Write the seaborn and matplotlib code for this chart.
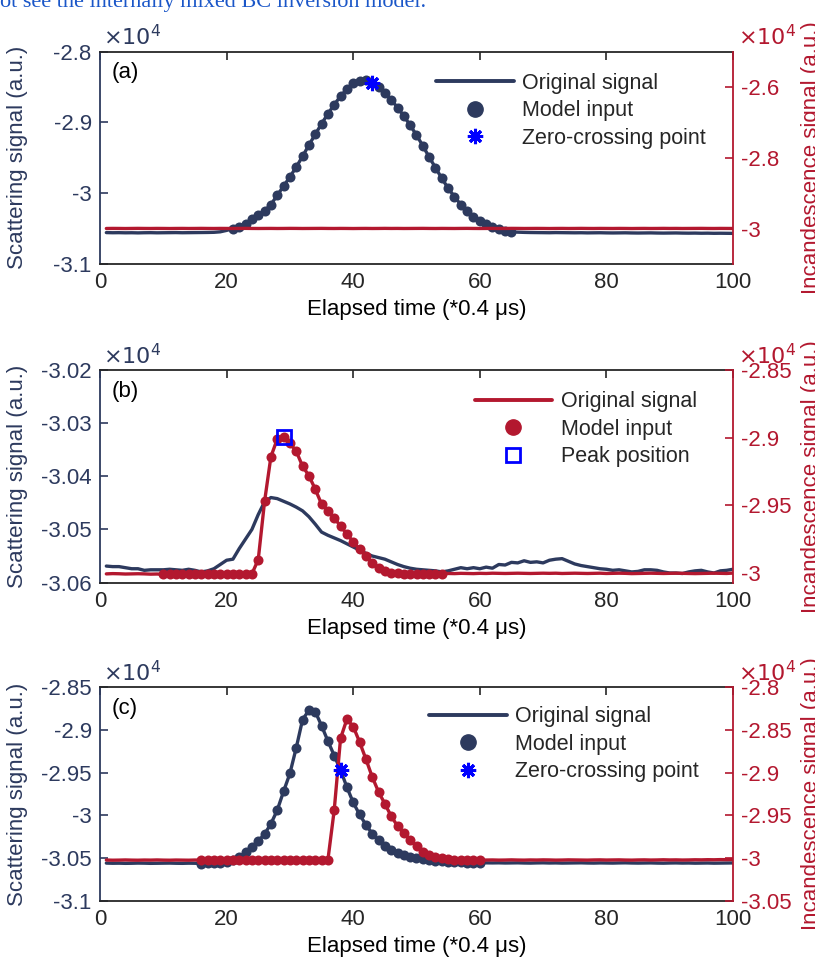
import numpy as np
import seaborn as sns
import matplotlib.pyplot as plt
from matplotlib.lines import Line2D
from matplotlib.ticker import FuncFormatter

# elapsed time index (*0.4 us)
time = np.arange(1, 101)

# (a) signals in a.u.
scat_a = [
    -30556, -30558, -30557, -30559, -30558, -30560, -30558, -30557, -30559, -30558,
    -30557, -30556, -30558, -30557, -30556, -30555, -30554, -30552, -30545, -30525,
    -30500, -30470, -30430, -30370, -30310, -30250, -30160, -30030, -29900, -29770,
    -29630, -29480, -29320, -29170, -29020, -28880, -28750, -28630, -28530, -28450,
    -28410, -28405, -28440, -28500, -28580, -28680, -28790, -28910, -29040, -29180,
    -29330, -29490, -29640, -29790, -29930, -30050, -30160, -30250, -30330, -30390,
    -30440, -30480, -30510, -30530, -30545, -30550, -30553, -30555, -30556, -30557,
    -30558, -30556, -30557, -30558, -30559, -30558, -30560, -30559, -30558, -30560,
    -30561, -30560, -30559, -30561, -30562, -30561, -30560, -30562, -30563, -30562,
    -30561, -30563, -30564, -30563, -30565, -30564, -30566, -30565, -30566, -30567,
]
incan_a = [
    -29996, -29994, -29995, -29997, -29995, -29993, -29995, -29996, -29994, -29995,
    -29997, -29995, -29994, -29996, -29995, -29993, -29995, -29996, -29994, -29995,
    -29996, -29994, -29993, -29995, -29996, -29995, -29994, -29996, -29995, -29993,
    -29994, -29996, -29995, -29994, -29993, -29995, -29996, -29994, -29995, -29997,
    -29995, -29994, -29996, -29995, -29993, -29995, -29994, -29996, -29995, -29994,
    -29993, -29995, -29996, -29994, -29995, -29996, -29994, -29993, -29995, -29996,
    -29995, -29994, -29996, -29995, -29993, -29994, -29996, -29995, -29994, -29995,
    -29997, -29995, -29994, -29996, -29995, -29993, -29995, -29996, -29994, -29995,
    -29996, -29994, -29995, -29997, -29995, -29994, -29996, -29995, -29993, -29995,
    -29994, -29996, -29995, -29994, -29993, -29995, -29996, -29994, -29995, -29996,
]
model_a = (21, 65)
mark_a = 43

# (b)
scat_b = [
    -30569, -30570, -30570, -30572, -30574, -30574, -30577, -30576, -30576, -30576,
    -30575, -30576, -30577, -30575, -30577, -30580, -30578, -30574, -30566, -30558,
    -30556, -30536, -30518, -30500, -30472, -30448, -30440, -30442, -30447, -30452,
    -30458, -30465, -30476, -30490, -30505, -30511, -30516, -30521, -30527, -30533,
    -30539, -30545, -30550, -30553, -30556, -30561, -30566, -30570, -30573, -30575,
    -30576, -30577, -30578, -30580, -30578, -30575, -30572, -30574, -30572, -30574,
    -30571, -30573, -30566, -30567, -30562, -30563, -30559, -30562, -30561, -30563,
    -30558, -30556, -30555, -30560, -30565, -30568, -30570, -30572, -30574, -30575,
    -30577, -30576, -30578, -30580, -30579, -30576, -30576, -30577, -30580, -30582,
    -30582, -30583, -30580, -30578, -30577, -30580, -30582, -30578, -30577, -30575,
]
incan_b = [
    -30006, -30004, -30005, -30007, -30006, -30005, -30006, -30008, -30007, -30009,
    -30008, -30009, -30007, -30008, -30006, -30007, -30006, -30008, -30007, -30006,
    -30008, -30007, -30008, -30006, -29900, -29470, -29140, -29010, -28995, -29040,
    -29100, -29210, -29280, -29380, -29490, -29540, -29590, -29655, -29710, -29770,
    -29825, -29875, -29925, -29962, -29985, -29996, -30002, -30004, -30006, -30005,
    -30006, -30004, -30005, -30005, -30003, -30004, -30002, -30003, -30004, -30002,
    -30003, -30001, -30002, -30003, -30002, -30001, -30002, -30003, -30002, -30001,
    -30002, -30001, -30003, -30002, -30001, -30002, -30003, -30002, -30001, -30003,
    -30002, -30001, -30002, -30004, -30003, -30002, -30001, -30002, -30003, -30002,
    -30001, -30002, -30003, -30004, -30003, -30002, -30001, -30002, -30003, -30000,
]
model_b = (10, 54)
mark_b = 29

# (c)
scat_c = [
    -30560, -30562, -30561, -30563, -30562, -30560, -30561, -30563, -30562, -30561,
    -30560, -30562, -30563, -30561, -30562, -30565, -30563, -30560, -30555, -30545,
    -30520, -30485, -30430, -30370, -30300, -30220, -30100, -29940, -29720, -29510,
    -29210, -28880, -28770, -28785, -28950, -29130, -29300, -29470, -29670, -29850,
    -29990, -30110, -30215, -30295, -30360, -30405, -30440, -30465, -30485, -30500,
    -30512, -30522, -30530, -30537, -30543, -30547, -30550, -30553, -30555, -30556,
    -30557, -30558, -30557, -30559, -30558, -30557, -30559, -30560, -30558, -30557,
    -30559, -30558, -30560, -30559, -30558, -30557, -30559, -30560, -30558, -30559,
    -30560, -30558, -30557, -30559, -30560, -30559, -30558, -30560, -30561, -30559,
    -30558, -30560, -30559, -30561, -30560, -30559, -30561, -30560, -30559, -30558,
]
incan_c = [
    -30024, -30026, -30025, -30023, -30025, -30026, -30024, -30025, -30023, -30025,
    -30026, -30024, -30025, -30026, -30024, -30025, -30026, -30025, -30024, -30026,
    -30025, -30024, -30026, -30025, -30024, -30026, -30025, -30024, -30025, -30026,
    -30024, -30025, -30026, -30024, -30025, -30025, -29440, -28600, -28375, -28460,
    -28640, -28840, -29050, -29225, -29365, -29510, -29625, -29710, -29790, -29865,
    -29925, -29965, -29990, -30005, -30015, -30020, -30022, -30024, -30025, -30026,
    -30024, -30023, -30025, -30024, -30022, -30024, -30025, -30023, -30024, -30022,
    -30023, -30025, -30024, -30022, -30023, -30024, -30025, -30023, -30022, -30024,
    -30023, -30022, -30024, -30025, -30023, -30022, -30024, -30023, -30021, -30023,
    -30022, -30024, -30023, -30021, -30022, -30020, -30021, -30019, -30020, -30018,
]
model_c = (16, 60)
mark_c = 38

NAVY = '#2d3a5e'
RED = '#b3182f'
BLUE = '#0000ff'
DARK = '#262626'
FS = 16
LFS = 15.5

sns.set_theme(style='white')
plt.rcParams['font.family'] = ['Liberation Sans', 'DejaVu Sans']
plt.rcParams['axes.unicode_minus'] = False

fmt = FuncFormatter(lambda v, p: f'{v / 1e4:g}')

fig = plt.figure(figsize=(8.15, 9.64), dpi=100)


def panel(rect, tag, ylim, yt, ylim2, yt2):
    ax = fig.add_axes(rect)
    ax2 = ax.twinx()
    ax.set_xlim(0, 100)
    ax.set_xticks(range(0, 101, 20))
    ax.set_ylim(*ylim)
    ax.set_yticks(yt)
    ax2.set_ylim(*ylim2)
    ax2.set_yticks(yt2)
    ax.yaxis.set_major_formatter(fmt)
    ax2.yaxis.set_major_formatter(fmt)
    for s in ['top', 'bottom']:
        ax.spines[s].set_color(DARK)
    ax.spines['left'].set_color(NAVY)
    ax.spines['right'].set_visible(False)
    for s in ['top', 'bottom', 'left']:
        ax2.spines[s].set_visible(False)
    ax2.spines['right'].set_color(RED)
    for sp in list(ax.spines.values()) + list(ax2.spines.values()):
        sp.set_linewidth(1.3)
    ax.tick_params(axis='x', direction='in', top=True, length=6, width=1.2,
                   colors=DARK, labelsize=FS, pad=6)
    ax.tick_params(axis='y', direction='in', length=6, width=1.2,
                   colors=NAVY, labelsize=FS, pad=6)
    ax2.tick_params(axis='y', direction='in', length=6, width=1.2,
                    colors=RED, labelsize=FS, pad=6)
    ax.set_xlabel('Elapsed time (*0.4 μs)', fontsize=FS, color='black')
    ax.xaxis.set_label_coords(0.5, -0.165)
    ax.set_ylabel('Scattering signal (a.u.)', fontsize=FS, color=NAVY)
    ax.yaxis.set_label_coords(-0.113, 0.5)
    ax2.set_ylabel('Incandescence signal (a.u.)', fontsize=FS, color=RED,
                   rotation=90)
    ax2.yaxis.set_label_coords(1.108, 0.5)
    ax.text(0.005, 1.005, r'$\times10^{4}$', transform=ax.transAxes, fontsize=FS,
            color=NAVY, va='bottom', ha='left')
    ax2.text(1.008, 1.005, r'$\times10^{4}$', transform=ax.transAxes, fontsize=FS,
             color=RED, va='bottom', ha='left')
    ax2.text(0.018, 0.9, tag, transform=ax.transAxes, fontsize=FS,
             color='black', va='center', ha='left')
    return ax, ax2


def handles(col, mk, mkw):
    return [Line2D([], [], color=col, lw=2.8),
            Line2D([], [], color=col, marker='o', ls='', markersize=11),
            Line2D([], [], color=BLUE, ls='', **mkw, marker=mk)]


def legend(ax2, hs, labels, x0, y0):
    ax2.legend(hs, labels, loc='upper left', bbox_to_anchor=(x0, y0),
               frameon=False, fontsize=LFS, handlelength=3.6, handletextpad=0.4,
               labelspacing=0.3, borderpad=0, borderaxespad=0)


star = dict(markersize=11, markeredgewidth=2.2, markeredgecolor=BLUE)
square = dict(markersize=10, markeredgewidth=2.0, markeredgecolor=BLUE,
              markerfacecolor='none')

L, W = 100 / 815, 633 / 815

# ---- (a)
ax, ax2 = panel([L, 0.7261, W, 0.2204], '(a)', (-31000, -28000),
                [-31000, -30000, -29000, -28000], (-31000, -25000),
                [-30000, -28000, -26000])
sns.lineplot(x=time, y=scat_a, ax=ax, color=NAVY, linewidth=2.4)
s, e = model_a
sns.scatterplot(x=time[s - 1:e], y=scat_a[s - 1:e], ax=ax, color=NAVY, s=52,
                linewidth=0, zorder=3)
sns.lineplot(x=time, y=incan_a, ax=ax2, color=RED, linewidth=2.4)
ax2.plot(mark_a, scat_a[mark_a - 1], ls='', marker=(8, 2, 0), transform=ax.transData,
         zorder=5, **star)
legend(ax2, handles(NAVY, (8, 2, 0), star),
       ['Original signal', 'Model input', 'Zero-crossing point'], 0.531, 0.90)

# ---- (b)
ax, ax2 = panel([L, 0.3957, W, 0.2204], '(b)', (-30600, -30200),
                [-30600, -30500, -30400, -30300, -30200], (-30070, -28500),
                [-30000, -29500, -29000, -28500])
sns.lineplot(x=time, y=scat_b, ax=ax, color=NAVY, linewidth=2.4)
sns.lineplot(x=time, y=incan_b, ax=ax2, color=RED, linewidth=2.4)
s, e = model_b
sns.scatterplot(x=time[s - 1:e], y=incan_b[s - 1:e], ax=ax2, color=RED, s=52,
                linewidth=0, zorder=3)
ax2.plot(mark_b, incan_b[mark_b - 1], ls='', marker='s', zorder=5, **square)
legend(ax2, handles(RED, 's', square),
       ['Original signal', 'Model input', 'Peak position'], 0.592, 0.90)

# ---- (c)
ax, ax2 = panel([L, 0.0657, W, 0.2214], '(c)', (-31000, -28500),
                [-31000, -30500, -30000, -29500, -29000, -28500], (-30500, -28000),
                [-30500, -30000, -29500, -29000, -28500, -28000])
sns.lineplot(x=time, y=scat_c, ax=ax, color=NAVY, linewidth=2.4)
s, e = model_c
sns.scatterplot(x=time[s - 1:e], y=scat_c[s - 1:e], ax=ax, color=NAVY, s=52,
                linewidth=0, zorder=3)
sns.lineplot(x=time, y=incan_c, ax=ax2, color=RED, linewidth=2.4)
sns.scatterplot(x=time[s - 1:e], y=incan_c[s - 1:e], ax=ax2, color=RED, s=52,
                linewidth=0, zorder=3)
ax2.plot(mark_c, scat_c[mark_c - 1], ls='', marker=(8, 2, 0), transform=ax.transData,
         zorder=5, **star)
legend(ax2, handles(NAVY, (8, 2, 0), star),
       ['Original signal', 'Model input', 'Zero-crossing point'], 0.52, 0.91)

# caption sliver cut by the top edge
fig.text(0.0, 1 - 7 / 964, 'ot see the internally mixed BC inversion model.',
         color='#1a56c8', fontsize=16, family='Liberation Serif', va='baseline')

fig.savefig('out.png', dpi=100)
